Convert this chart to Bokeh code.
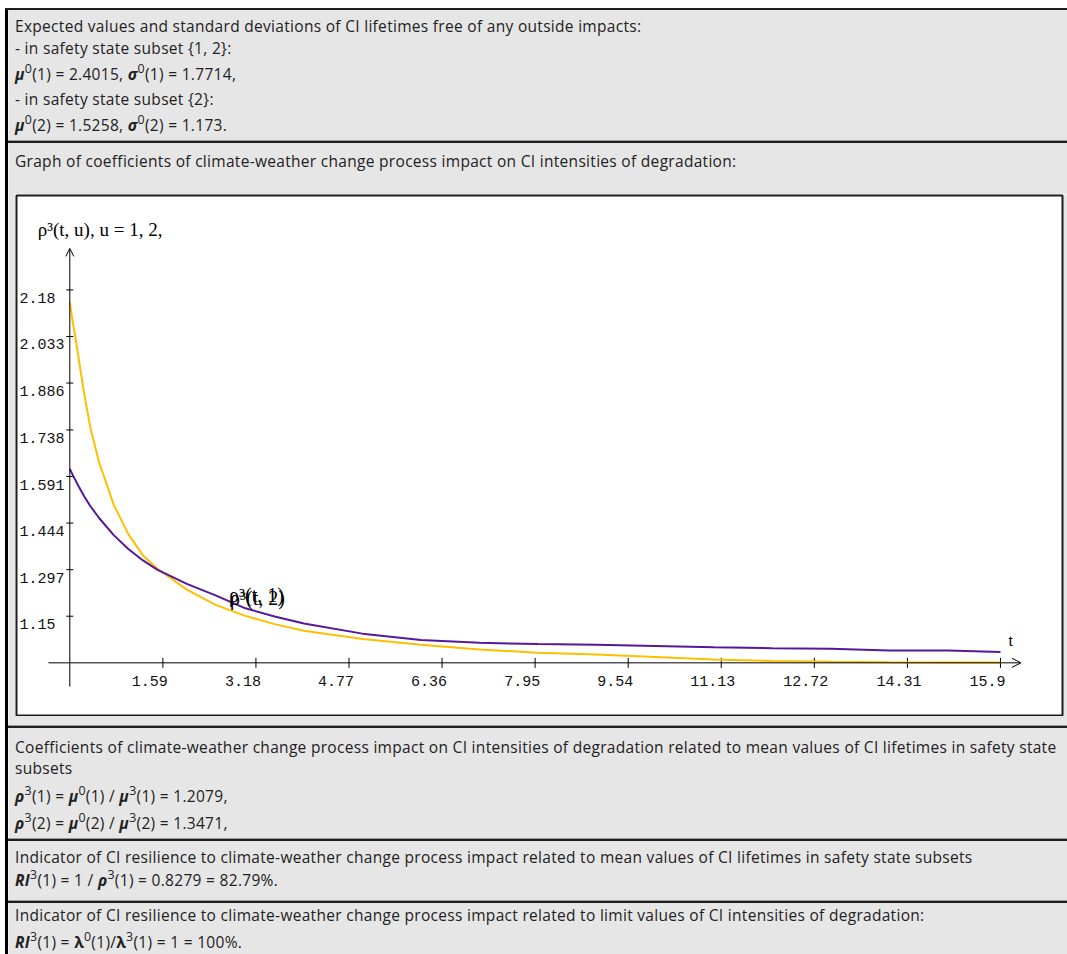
import math
from bokeh.plotting import figure
from bokeh.layouts import column, row
from bokeh.models import Div, Arrow, OpenHead, ColumnDataSource, Range1d
from bokeh.embed import file_html
from bokeh.resources import INLINE
from bokeh.core.properties import value

# ---------------- data ----------------
t_values = [0, 0.05, 0.1, 0.15, 0.25, 0.35, 0.5, 0.75, 1, 1.25, 1.5, 2, 2.5, 3, 3.5, 4, 5, 6,
            7, 8, 9, 10, 11, 12, 13, 14, 15, 15.9]
rho_yellow = [2.141, 2.080, 2.025, 1.965, 1.848, 1.746, 1.636, 1.502, 1.409, 1.342, 1.300,
              1.234, 1.185, 1.151, 1.125, 1.104, 1.078, 1.060, 1.045, 1.035, 1.029, 1.021,
              1.013, 1.009, 1.006, 1.0045, 1.004, 1.004]
rho_purple = [1.615, 1.596, 1.578, 1.560, 1.527, 1.498, 1.460, 1.406, 1.362, 1.326, 1.296,
              1.252, 1.215, 1.175, 1.149, 1.127, 1.095, 1.075, 1.066, 1.062, 1.060, 1.056,
              1.052, 1.049, 1.047, 1.042, 1.042, 1.037]
x_ticks = [1.59, 3.18, 4.77, 6.36, 7.95, 9.54, 11.13, 12.72, 14.31, 15.9]
x_tick_labels = ["1.59", "3.18", "4.77", "6.36", "7.95", "9.54", "11.13", "12.72", "14.31", "15.9"]
y_ticks = [2.18, 2.033, 1.886, 1.738, 1.591, 1.444, 1.297, 1.15]
y_tick_labels = ["2.18", "2.033", "1.886", "1.738", "1.591", "1.444", "1.297", "1.15"]
curve_labels = ["ρ³(t, 1)", "ρ³(t, 2)"]
axis_title = "ρ³(t, u), u = 1, 2,"

mu0_1, sigma0_1 = "2.4015", "1.7714"
mu0_2, sigma0_2 = "1.5258", "1.173"
rho3_1, rho3_2 = "1.2079", "1.3471"
ri_mean, ri_mean_pct = "0.8279", "82.79%"
ri_limit, ri_limit_pct = "1", "100%"

# ---------------- styles ----------------
GREY = "#e6e6e6"
DARK = "#1e1e1e"
YELLOW = "#ffbf00"
PURPLE = "#56189a"
FONT = "'Open Sans', sans-serif"
FONT_SIZE = "15.5px"
LETTER_SPACING = "0.3px"

# ---------------- chart ----------------
X_START, X_END = -0.9106, 16.960
Y_START, Y_END = 0.8366, 2.478
step = (y_ticks[0] - y_ticks[-1]) / (len(y_ticks) - 1)
AXIS_Y = y_ticks[-1] - step

p = figure(width=1052, height=522, x_range=Range1d(X_START, X_END), y_range=Range1d(Y_START, Y_END),
           output_backend="svg", toolbar_location=None, tools="",
           x_axis_type=None, y_axis_type=None,
           min_border_left=1, min_border_right=5, min_border_top=1, min_border_bottom=1,
           background_fill_color="white", border_fill_color=GREY,
           outline_line_color=DARK, outline_line_width=2)

# axes with arrows
p.add_layout(Arrow(x_start=-0.364, y_start=AXIS_Y, x_end=16.25, y_end=AXIS_Y,
                   line_color="black", line_width=1,
                   end=OpenHead(size=9, line_color="black", line_width=1)))
p.add_layout(Arrow(x_start=0, y_start=0.928, x_end=0, y_end=2.311,
                   line_color="black", line_width=1,
                   end=OpenHead(size=8, line_color="black", line_width=1)))

# tick marks
p.scatter(x=x_ticks, y=[AXIS_Y] * len(x_ticks), marker="dash", size=10, angle=math.pi / 2,
          line_color="black", line_width=1)
p.scatter(x=[0] * len(y_ticks), y=y_ticks, marker="dash", size=7,
          line_color="black", line_width=1)

# curves
p.line(t_values, rho_yellow, line_color=YELLOW, line_width=2)
p.line(t_values, rho_purple, line_color=PURPLE, line_width=2)

# tick labels
xsrc = ColumnDataSource(dict(x=x_ticks, y=[AXIS_Y] * len(x_ticks), text=x_tick_labels))
p.text(x="x", y="y", text="text", source=xsrc, x_offset=-31, y_offset=18,
       text_align="left", text_baseline="middle",
       text_font=value("Liberation Mono"), text_font_size="15px", text_color="#111111")
ysrc = ColumnDataSource(dict(x=[X_START] * len(y_ticks), y=y_ticks, text=y_tick_labels))
p.text(x="x", y="y", text="text", source=ysrc, x_offset=3, y_offset=8,
       text_align="left", text_baseline="middle",
       text_font=value("Liberation Mono"), text_font_size="15px", text_color="#111111")

# axis titles
p.text(x=[0], y=[Y_END], text=[axis_title], x_offset=-32, y_offset=34,
       text_align="left", text_baseline="middle",
       text_font=value("Liberation Serif"), text_font_size="19px", text_color="black")
p.text(x=[x_ticks[-1]], y=[AXIS_Y], text=["t"], x_offset=8, y_offset=-22,
       text_align="left", text_baseline="middle",
       text_font=value("Liberation Sans"), text_font_size="15px", text_color="black")

# curve labels (overlapping, as in the original)
p.text(x=[2.72], y=[1.2185], text=[curve_labels[0]], text_align="left", text_baseline="middle",
       text_font=value("Liberation Serif"), text_font_size="20px", text_color="black")
p.text(x=[2.72], y=[1.2185], text=[curve_labels[1]], x_offset=1, y_offset=3,
       text_align="left", text_baseline="middle",
       text_font=value("Liberation Serif"), text_font_size="20px", text_color="black")


# ---------------- HTML panels ----------------
def sup(s):
    return ('<span style="font-size:0.8em;line-height:0;position:relative;top:-0.55em;">'
            + s + '</span>')


def bi(s):
    return '<b><i>' + s + '</i></b>'


def b(s):
    return '<b>' + s + '</b>'


def line(x, yc, html, lh=20):
    return ('<div style="position:absolute;left:%dpx;top:%.1fpx;line-height:%dpx;'
            'white-space:nowrap;">%s</div>' % (x, yc - lh / 2, lh, html))


def rect(x, y, w, h, color):
    return ('<div style="position:absolute;left:%dpx;top:%dpx;width:%dpx;height:%dpx;'
            'background:%s;"></div>' % (x, y, w, h, color))


def separator(y):
    return rect(8, y - 1, 1059, 1, "#9a9a9a") + rect(8, y, 1059, 2, DARK)


def container(w, h, inner):
    return ('<div style="position:relative;width:%dpx;height:%dpx;overflow:hidden;'
            'font-family:%s;font-size:%s;letter-spacing:%s;color:#222;">%s</div>'
            % (w, h, FONT, FONT_SIZE, LETTER_SPACING, inner))


TX = 15  # text left inside panels
W = 1067

# top part: page y 0..194
a = ""
a += rect(8, 10, W - 8, 184, GREY)
a += rect(5, 8, 3, 186, "#000000")         # left thick border
a += rect(8, 10, 1, 184, "#f4f4f4")
a += rect(5, 8, W - 5, 2, DARK)            # top border
a += line(TX, 26, "Expected values and standard deviations of CI lifetimes free of any outside impacts:")
a += line(TX, 48, "- in safety state subset {1, 2}:")
a += line(TX, 74, bi("μ") + sup("0") + "(1) = " + mu0_1 + ", " + bi("σ") + sup("0") + "(1) = " + sigma0_1 + ",")
a += line(TX, 99, "- in safety state subset {2}:")
a += line(TX, 125, bi("μ") + sup("0") + "(2) = " + mu0_2 + ", " + bi("σ") + sup("0") + "(2) = " + sigma0_2 + ".")
a += separator(141)
a += line(TX, 161, "Graph of coefficients of climate-weather change process impact on CI intensities of degradation:")
div_a = Div(text=container(W, 194, a), width=W, height=194, margin=0)

# left strip beside the chart
l = rect(5, 0, 3, 522, "#000000") + rect(8, 0, 1, 522, "#f4f4f4") + rect(9, 0, 6, 522, GREY)
div_l = Div(text=container(15, 522, l), width=15, height=522, margin=0)

# bottom part: page y 716..954
bb = ""
bb += rect(8, 0, W - 8, 238, GREY)
bb += rect(5, 0, 3, 238, "#000000")
bb += rect(8, 0, 1, 238, "#f4f4f4")
bb += separator(10)
bb += line(TX, 31, "Coefficients of climate-weather change process impact on CI intensities of degradation related to mean values of CI lifetimes in safety state")
bb += line(TX, 52, "subsets")
bb += line(TX, 80, bi("ρ") + sup("3") + "(1) = " + bi("μ") + sup("0") + "(1) / " + bi("μ") + sup("3") + "(1) = " + rho3_1 + ",")
bb += line(TX, 107, bi("ρ") + sup("3") + "(2) = " + bi("μ") + sup("0") + "(2) / " + bi("μ") + sup("3") + "(2) = " + rho3_2 + ",")
bb += separator(123)
bb += line(TX, 141, "Indicator of CI resilience to climate-weather change process impact related to mean values of CI lifetimes in safety state subsets")
bb += line(TX, 164, bi("RI") + sup("3") + "(1) = 1 / " + bi("ρ") + sup("3") + "(1) = " + ri_mean + " = " + ri_mean_pct + ".")
bb += separator(185)
bb += line(TX, 199, "Indicator of CI resilience to climate-weather change process impact related to limit values of CI intensities of degradation:")
bb += line(TX, 226, bi("RI") + sup("3") + "(1) = " + b("λ") + sup("0") + "(1)/" + b("λ") + sup("3") + "(1) = " + ri_limit + " = " + ri_limit_pct + ".")
div_b = Div(text=container(W, 238, bb), width=W, height=238, margin=0)

layout = column(div_a, row(div_l, p, spacing=0), div_b, spacing=0)

with open("out.html", "w") as f:
    f.write(file_html(layout, INLINE))
